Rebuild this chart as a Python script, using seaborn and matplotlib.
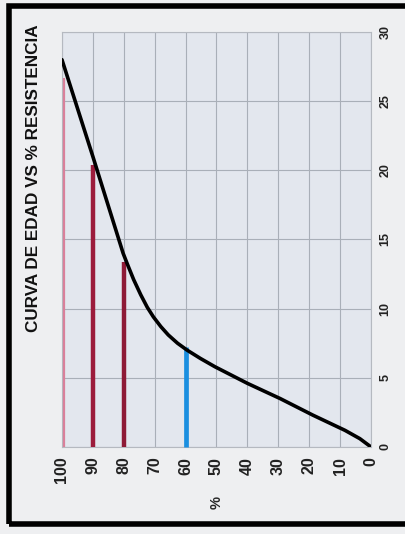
import matplotlib
matplotlib.use("Agg")
import matplotlib.pyplot as plt
import pandas as pd
import seaborn as sns
from matplotlib.patches import Rectangle

# curve: age (days) vs % strength
days = [0, 0.6, 1.2, 2.3, 3.5, 4.6, 5.8, 6.4, 7.0, 7.5, 8.1, 8.7, 9.4, 10.1,
        11.0, 12.1, 13.2, 14, 16, 21, 28]
strength = [0, 3.6, 8.4, 18.8, 29.4, 40, 50.5, 55.2, 59.5, 62.6, 65.6, 68.0,
            70.4, 72.4, 74.5, 76.8, 78.8, 80.2, 83, 90, 100]

# reference lines: % level and the age where each stops
ref_pct = [99.5, 90, 80, 60]
ref_days = [26.7, 20.4, 13.4, 7.2]
ref_colors = ["#d9809a", "#9c1c3c", "#8e1a36", "#1a8fe0"]
ref_widths = [1.6, 3.2, 3.2, 3.4]

pct_ticks = [100, 90, 80, 70, 60, 50, 40, 30, 20, 10, 0]
day_ticks = [0, 5, 10, 15, 20, 25, 30]

sns.set_theme(style="whitegrid")
plt.rcParams["font.family"] = ["Liberation Sans", "DejaVu Sans"]

fig = plt.figure(figsize=(4.05, 5.34), dpi=100, facecolor="#eeeff1")
ax = fig.add_axes([0.153, 0.163, 0.763, 0.777])
ax.set_facecolor("#e3e7ee")

df = pd.DataFrame({"pct": strength, "days": days})
sns.lineplot(data=df, x="pct", y="days", sort=False, estimator=None,
             color="black", linewidth=2.6, ax=ax, zorder=5)

for p, d, c, w in zip(ref_pct, ref_days, ref_colors, ref_widths):
    ax.vlines(p, 0, d, color=c, linewidth=w, zorder=4, clip_on=False)

ax.set_xlim(100, 0)
ax.set_ylim(0, 30)
ax.set_xticks(pct_ticks)
ax.set_yticks(day_ticks)
ax.yaxis.tick_right()
ax.tick_params(axis="x", labelrotation=90, labelsize=11.5, pad=7, length=0)
ax.tick_params(axis="y", labelrotation=90, labelsize=9, pad=6, length=0)
for lab in ax.get_xticklabels() + ax.get_yticklabels():
    lab.set_fontweight("bold")
    lab.set_color("#222222")
for lab in ax.get_yticklabels():
    lab.set_verticalalignment("center")
ax.grid(True, color="#a9afb8", linewidth=0.8)
for s in ax.spines.values():
    s.set_color("#b5b9c0")
    s.set_linewidth(0.8)

ax.set_xlabel("%", fontsize=10.5, fontweight="bold", rotation=90, labelpad=9)
ax.set_ylabel("")

fig.text(0.082, 0.955, "CURVA DE EDAD VS % RESISTENCIA", rotation=90,
         ha="center", va="top", fontsize=12.3, fontweight="bold", color="#111111")

fig.patches.append(Rectangle((0.022, 0.018), 1.2, 0.97, transform=fig.transFigure,
                             fill=False, edgecolor="black", linewidth=4))

fig.savefig("out.png", dpi=100, facecolor=fig.get_facecolor())
